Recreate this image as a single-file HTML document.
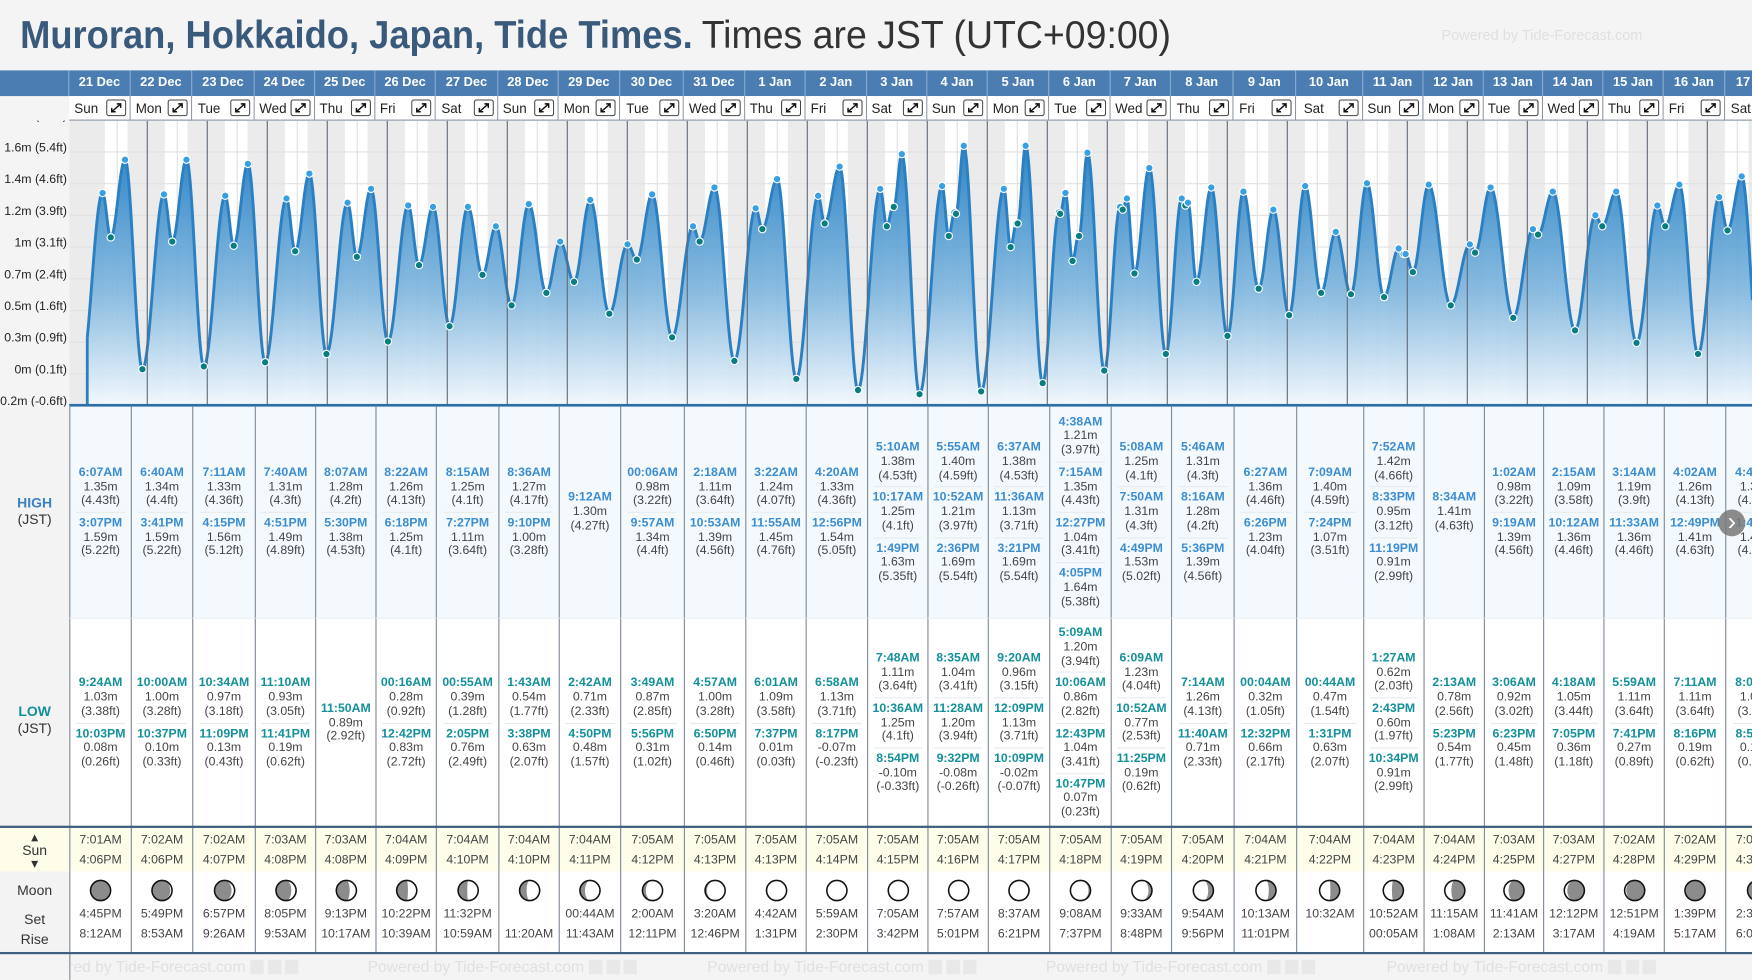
<!DOCTYPE html>
<html><head><meta charset="utf-8">
<style>
html,body{margin:0;padding:0;width:1752px;height:980px;overflow:hidden;background:#f4f4f4;font-family:"Liberation Sans",sans-serif;}
#root{position:absolute;left:0;top:0;width:1568px;height:877px;transform:scale(1.117347);transform-origin:0 0;overflow:hidden;background:#f4f4f4;}
.a{position:absolute;box-sizing:border-box}
.hd{background:#4b7db3;color:#fff;font-weight:bold;font-size:11.5px;text-align:center;line-height:23px;border-right:1px solid #86a9d0}
.dw{background:#fff;font-size:12px;color:#222;border-right:1px solid #8a96a3;border-bottom:1px solid #8a96a3;line-height:22px}
.cell{display:flex;flex-direction:column;justify-content:center;align-items:center;border-left:1px solid #7d8a97;font-size:11px;color:#444;text-align:center}
.ent{line-height:12.7px;white-space:nowrap}
.sep{width:80%;height:1px;background:#e6ebf0;margin:3px 0}
.th{font-weight:bold;color:#3b8dd0}
.tl{font-weight:bold;color:#14909a}
.lbl{color:#333;font-size:12.5px;text-align:center;width:62px;left:0}
.wm{color:#e0e0e0;font-size:14px;white-space:nowrap}
</style></head>
<body><div id="root">
<div class="a" id="title" style="left:18px;top:12px;white-space:nowrap;font-size:35px;line-height:40px;">
<span id="t1" style="display:inline-block;font-weight:bold;color:#3a5a7c;transform-origin:0 0">Muroran, Hokkaido, Japan, Tide Times.</span>
</div>
<div class="a" id="t2" style="left:628px;top:12px;font-size:35px;line-height:40px;color:#333;white-space:nowrap;transform-origin:0 0">Times are JST (UTC+09:00)</div>
<div class="a wm" style="left:1290px;top:24px;font-size:13px">Powered by Tide-Forecast.com</div>
<div class="a" style="left:0;top:63px;width:62px;height:23px;background:#4b7db3;border-right:1px solid #86a9d0"></div>
<div class="a" style="left:62px;top:108px;width:1506px;height:256px;background:#fff"></div>
<svg class="a" id="chart" style="left:0;top:108px" width="1568" height="256" viewBox="0 108 1568 256"></svg>
<div id="table"></div>
<div class="a" style="left:0;top:364px;width:62px;height:376px;background:#f3f3f3"></div>
<div class="a lbl" style="top:443px;line-height:15px"><b style="color:#3b82c4">HIGH</b><br>(JST)</div>
<div class="a lbl" style="top:630px;line-height:15px"><b style="color:#14909a">LOW</b><br>(JST)</div>
<div class="a" style="left:0;top:740px;width:1568px;height:40px;background:#fdfdea;z-index:-0"></div>
<div class="a" style="left:0;top:739px;width:1568px;height:2px;background:#3f5f80;z-index:3"></div>
<div class="a" style="left:0;top:780px;width:62px;height:73px;background:#f3f3f3"></div>
<div class="a lbl" style="top:744px;line-height:10px;font-size:12.5px">▴<br><span style="line-height:14px;display:inline-block">Sun</span><br>▾</div>
<div class="a lbl" style="top:790px">Moon</div>
<div class="a lbl" style="top:816px">Set</div>
<div class="a lbl" style="top:834px">Rise</div>
<div class="a" style="left:0;top:852px;width:1568px;height:2px;background:#3f5f80;z-index:3"></div>
<div class="a" id="footer" style="left:62px;top:854px;width:1506px;height:23px;overflow:hidden;border-left:1px solid #7d8a97"></div>
<div class="a" style="left:1538px;top:456px;width:24px;height:24px;border-radius:12px;background:rgba(120,120,120,.85);color:#fff;font-size:22px;line-height:22px;text-align:center;z-index:5">›</div>
</div>
<script>
const dates=["21 Dec","22 Dec","23 Dec","24 Dec","25 Dec","26 Dec","27 Dec","28 Dec","29 Dec","30 Dec","31 Dec","1 Jan","2 Jan","3 Jan","4 Jan","5 Jan","6 Jan","7 Jan","8 Jan","9 Jan","10 Jan","11 Jan","12 Jan","13 Jan","14 Jan","15 Jan","16 Jan","17 Jan"];
const dows=["Sun","Mon","Tue","Wed","Thu","Fri","Sat","Sun","Mon","Tue","Wed","Thu","Fri","Sat","Sun","Mon","Tue","Wed","Thu","Fri","Sat","Sun","Mon","Tue","Wed","Thu","Fri","Sat"];
const highTimes=[["6:07AM","3:07PM"],["6:40AM","3:41PM"],["7:11AM","4:15PM"],["7:40AM","4:51PM"],["8:07AM","5:30PM"],["8:22AM","6:18PM"],["8:15AM","7:27PM"],["8:36AM","9:10PM"],["9:12AM"],["00:06AM","9:57AM"],["2:18AM","10:53AM"],["3:22AM","11:55AM"],["4:20AM","12:56PM"],["5:10AM","10:17AM","1:49PM"],["5:55AM","10:52AM","2:36PM"],["6:37AM","11:36AM","3:21PM"],["4:38AM","7:15AM","12:27PM","4:05PM"],["5:08AM","7:50AM","4:49PM"],["5:46AM","8:16AM","5:36PM"],["6:27AM","6:26PM"],["7:09AM","7:24PM"],["7:52AM","8:33PM","11:19PM"],["8:34AM"],["1:02AM","9:19AM"],["2:15AM","10:12AM"],["3:14AM","11:33AM"],["4:02AM","12:49PM"],["4:45AM","1:46PM"]];
const highM=[[1.35,1.59],[1.34,1.59],[1.33,1.56],[1.31,1.49],[1.28,1.38],[1.26,1.25],[1.25,1.11],[1.27,1.00],[1.30],[0.98,1.34],[1.11,1.39],[1.24,1.45],[1.33,1.54],[1.38,1.25,1.63],[1.40,1.21,1.69],[1.38,1.13,1.69],[1.21,1.35,1.04,1.64],[1.25,1.31,1.53],[1.31,1.28,1.39],[1.36,1.23],[1.40,1.07],[1.42,0.95,0.91],[1.41],[0.98,1.39],[1.09,1.36],[1.19,1.36],[1.26,1.41],[1.32,1.47]];
const lowTimes=[["9:24AM","10:03PM"],["10:00AM","10:37PM"],["10:34AM","11:09PM"],["11:10AM","11:41PM"],["11:50AM"],["00:16AM","12:42PM"],["00:55AM","2:05PM"],["1:43AM","3:38PM"],["2:42AM","4:50PM"],["3:49AM","5:56PM"],["4:57AM","6:50PM"],["6:01AM","7:37PM"],["6:58AM","8:17PM"],["7:48AM","10:36AM","8:54PM"],["8:35AM","11:28AM","9:32PM"],["9:20AM","12:09PM","10:09PM"],["5:09AM","10:06AM","12:43PM","10:47PM"],["6:09AM","10:52AM","11:25PM"],["7:14AM","11:40AM"],["00:04AM","12:32PM"],["00:44AM","1:31PM"],["1:27AM","2:43PM","10:34PM"],["2:13AM","5:23PM"],["3:06AM","6:23PM"],["4:18AM","7:05PM"],["5:59AM","7:41PM"],["7:11AM","8:16PM"],["8:05AM","8:51PM"]];
const lowM=[[1.03,0.08],[1.00,0.10],[0.97,0.13],[0.93,0.19],[0.89],[0.28,0.83],[0.39,0.76],[0.54,0.63],[0.71,0.48],[0.87,0.31],[1.00,0.14],[1.09,0.01],[1.13,-0.07],[1.11,1.25,-0.10],[1.04,1.20,-0.08],[0.96,1.13,-0.02],[1.20,0.86,1.04,0.07],[1.23,0.77,0.19],[1.26,0.71],[0.32,0.66],[0.47,0.63],[0.62,0.60,0.91],[0.78,0.54],[0.92,0.45],[1.05,0.36],[1.11,0.27],[1.11,0.19],[1.08,0.12]];
const leadTimes=["9:35PM"];
const leadM=[0.07];
const sunRise=["7:01AM","7:02AM","7:02AM","7:03AM","7:03AM","7:04AM","7:04AM","7:04AM","7:04AM","7:05AM","7:05AM","7:05AM","7:05AM","7:05AM","7:05AM","7:05AM","7:05AM","7:05AM","7:05AM","7:04AM","7:04AM","7:04AM","7:04AM","7:03AM","7:03AM","7:02AM","7:02AM","7:01AM"];
const sunSet=["4:06PM","4:06PM","4:07PM","4:08PM","4:08PM","4:09PM","4:10PM","4:10PM","4:11PM","4:12PM","4:13PM","4:13PM","4:14PM","4:15PM","4:16PM","4:17PM","4:18PM","4:19PM","4:20PM","4:21PM","4:22PM","4:23PM","4:24PM","4:25PM","4:27PM","4:28PM","4:29PM","4:30PM"];
const moonSet=["4:45PM","5:49PM","6:57PM","8:05PM","9:13PM","10:22PM","11:32PM","","00:44AM","2:00AM","3:20AM","4:42AM","5:59AM","7:05AM","7:57AM","8:37AM","9:08AM","9:33AM","9:54AM","10:13AM","10:32AM","10:52AM","11:15AM","11:41AM","12:12PM","12:51PM","1:39PM","2:35PM"];
const moonRise=["8:12AM","8:53AM","9:26AM","9:53AM","10:17AM","10:39AM","10:59AM","11:20AM","11:43AM","12:11PM","12:46PM","1:31PM","2:30PM","3:42PM","5:01PM","6:21PM","7:37PM","8:48PM","9:56PM","11:01PM","","00:05AM","1:08AM","2:13AM","3:17AM","4:19AM","5:17AM","6:09AM"];
const moonAge=[1.8,2.8,3.8,4.8,5.8,6.8,7.8,8.8,9.8,10.8,11.8,12.8,13.8,14.8,15.8,16.8,17.8,18.8,19.8,20.8,21.8,22.8,23.8,24.8,25.8,26.8,27.8,28.6];
const tickFt=[-0.6,0.15,0.9,1.65,2.4,3.15,3.9,4.65,5.4,6.15];
const tickLabels=["-0.2m (-0.6ft)","0m (0.1ft)","0.3m (0.9ft)","0.5m (1.6ft)","0.7m (2.4ft)","1m (3.1ft)","1.2m (3.9ft)","1.4m (4.6ft)","1.6m (5.4ft)","1.9m (6.1ft)"];

const colX=[62,117,172,228,282,336,390,446,500,555,612,667,721,776,830,884,939,994,1048,1104,1160,1219.6,1274,1328,1381,1435,1489,1544,1600];
const NS="http://www.w3.org/2000/svg";
function xOf(d){return 78.1+53.7*d;}
function yOf(m){return 340.4-124.2*m;}
function hrs(s){const m=s.match(/(\d+):(\d+)(AM|PM)/);let h=(+m[1])%12;if(m[3]==="PM")h+=12;return h+(+m[2])/60;}
function ftStr(m){return String(Math.round(m*328.084)/100);}
function el(tag,attrs,parent){const e=document.createElementNS(NS,tag);for(const k in attrs)e.setAttribute(k,attrs[k]);parent.appendChild(e);return e;}

const svg=document.getElementById('chart');
const defs=el('defs',{},svg);
const g=el('linearGradient',{id:'fillg',x1:0,y1:0,x2:0,y2:1,gradientUnits:'userSpaceOnUse'},defs);
g.setAttribute('y1',140);g.setAttribute('y2',362);
el('stop',{offset:'0','stop-color':'#2a82c5','stop-opacity':'0.95'},g);
el('stop',{offset:'0.55','stop-color':'#7fb6de','stop-opacity':'0.9'},g);
el('stop',{offset:'1','stop-color':'#f2f8fd','stop-opacity':'0.95'},g);
const cp=el('clipPath',{id:'cp'},defs);el('rect',{x:62,y:108,width:1506,height:256},cp);
const root=el('g',{'clip-path':'url(#cp)'},svg);

// night bands
const END=(1568-78.1)/53.7;
for(let i=-1;i<dates.length;i++){
  const s=i<0?-1+hrs("4:06PM")/24:i+hrs(sunSet[i])/24;
  const e=i+1<dates.length?i+1+hrs(sunRise[i+1])/24:END+1;
  const r=el('rect',{x:xOf(s),y:108,width:xOf(e)-xOf(s),height:256,fill:'#ebebeb'},root);
  
  
}
// horizontal gridlines
tickFt.forEach((f)=>{const y=yOf(f/3.28084);const l=el('line',{x1:62,x2:1568,y1:y,y2:y,stroke:'#e2e2e2','stroke-width':1},root);
  
  });
// noon & midnight lines
for(let i=0;i<=28;i++){
  const n=el('line',{x1:xOf(i+0.5),x2:xOf(i+0.5),y1:108,y2:364,stroke:'#e0e0e0','stroke-width':1},root);
  
  
}
// events
const events=[];
leadTimes.forEach((t,k)=>events.push({t:-1+hrs(t)/24,m:leadM[k],hi:null}));
highTimes.forEach((arr,i)=>arr.forEach((t,k)=>events.push({t:i+hrs(t)/24,m:highM[i][k],hi:true})));
lowTimes.forEach((arr,i)=>arr.forEach((t,k)=>events.push({t:i+hrs(t)/24,m:lowM[i][k],hi:false})));
events.sort((a,b)=>a.t-b.t);
function valAt(t){
  for(let k=0;k<events.length-1;k++){const a=events[k],b=events[k+1];
    if(t>=a.t&&t<=b.t){const s=(t-a.t)/(b.t-a.t);return a.m+(b.m-a.m)*(1-Math.cos(Math.PI*s))/2;}}
  return events[events.length-1].m;
}
let line="",area="M"+xOf(0)+",364";
for(let t=0;t<=END+0.01;t+=0.004){const x=xOf(t),y=yOf(valAt(t));line+=(line?"L":"M")+x.toFixed(2)+","+y.toFixed(2);area+="L"+x.toFixed(2)+","+y.toFixed(2);}
area+="L"+xOf(END+0.01)+",364Z";
const ap=el('path',{d:area,fill:'url(#fillg)'},root);


const lp=el('path',{d:line,fill:'none',stroke:'#2a80c3','stroke-width':2.6},root);


const vl=el('line',{x1:xOf(0),x2:xOf(0),y1:yOf(valAt(0)),y2:364,stroke:'#2a80c3','stroke-width':2.5},root);


for(let i=1;i<=28;i++){
  const m=el('line',{x1:xOf(i),x2:xOf(i),y1:108,y2:364,stroke:'#5f6b78','stroke-width':1},root);
  
  
}
events.forEach(ev=>{if(ev.hi===null)return;
  const c=el('circle',{cx:xOf(ev.t),cy:yOf(ev.m),r:3.3,fill:ev.hi?'#36a0e2':'#0a7d82',stroke:'#fff','stroke-width':1},root);
  
  
});
const bl=el('rect',{x:62,y:361.5,width:1506,height:3,fill:'#2f6fa9'},svg);


tickFt.forEach((f,k)=>{const t=el('text',{x:60,y:yOf(f/3.28084)-0.5,'text-anchor':'end','font-size':11,fill:'#222','font-family':'Liberation Sans, sans-serif'},svg);
  t.textContent=tickLabels[k];
  
  });

// table
const root2=document.getElementById('root');
function div(cls,style,html,parent){const d=document.createElement('div');d.className=cls;d.setAttribute('style',style);d.innerHTML=html;(parent||root2).appendChild(d);return d;}
function entries(times,ms,cls){return times.map((t,k)=>'<div class="ent"><span class="'+cls+'">'+t+'</span><br>'+ms[k].toFixed(2)+'m<br>('+ftStr(ms[k])+'ft)</div>').join('<div class="sep"></div>');}
function moonSvg(age){
  const r=9,cx=10,cy=10,ph=2*Math.PI*age/29.53,rx=Math.abs(Math.cos(ph))*r;
  const wax=ph<Math.PI,cres=Math.cos(ph)>0;let d;
  if(wax){d=`M${cx},${cy-r}A${r},${r} 0 0 1 ${cx},${cy+r}A${rx},${r} 0 0 ${cres?0:1} ${cx},${cy-r}Z`;}
  else{d=`M${cx},${cy-r}A${r},${r} 0 0 0 ${cx},${cy+r}A${rx},${r} 0 0 ${cres?1:0} ${cx},${cy-r}Z`;}
  return `<svg width="20" height="20" viewBox="0 0 20 20"><circle cx="10" cy="10" r="9" fill="#8c8c8c"/><path d="${d}" fill="#fff"/><circle cx="10" cy="10" r="9" fill="none" stroke="#111" stroke-width="1.4"/></svg>`;
}
const icon='<svg width="18" height="15" viewBox="0 0 18 15"><rect x="0.5" y="0.5" width="17" height="14" rx="2" fill="#fff" stroke="#444"/><path d="M5,11 L13,4 M9.5,4 H13 V7.5 M5,7.5 V11 H8.5" fill="none" stroke="#111" stroke-width="1.3"/></svg>';
for(let i=0;i<dates.length;i++){
  const L=colX[i],W=colX[i+1]-colX[i];
  let d=div('a hd',`left:${L}px;top:63px;width:${W}px;height:23px`,dates[i]);
  
  
  d=div('a dw',`left:${L}px;top:86px;width:${W}px;height:22px`,`<span style="position:absolute;left:${W/2-23}px">${dows[i]}</span><span style="position:absolute;left:${W-22}px;top:3px;line-height:0">${icon}</span>`);
  
  
  d=div('a cell',`left:${L}px;top:364px;width:${W}px;height:189px;background:#f4f9fe`,entries(highTimes[i],highM[i],'th'));
  
  
  d=div('a cell',`left:${L}px;top:553px;width:${W}px;height:187px;background:#fff;border-top:1px solid #eef1f4`,entries(lowTimes[i],lowM[i],'tl'));
  
  
  d=div('a cell',`left:${L}px;top:740px;width:${W}px;height:40px;line-height:18px;justify-content:center;padding-top:2px`,sunRise[i]+'<br>'+sunSet[i]);
  
  
  d=div('a cell',`left:${L}px;top:780px;width:${W}px;height:73px;background:#fff;justify-content:flex-start;padding-top:7px;line-height:18px`,`<div style="height:22px;line-height:0">${moonSvg(moonAge[i])}</div><div style="height:18px">${moonSet[i]}</div><div style="height:18px">${moonRise[i]}</div>`);
  
  
}
const foot=document.getElementById('footer');
[-37,266,570,873,1178].forEach(x=>{const w=div('a wm',`left:${x}px;top:3px`,'Powered by Tide-Forecast.com <span style="display:inline-block;width:12px;height:13px;background:#e8e8e8;vertical-align:-2px"></span> <span style="display:inline-block;width:12px;height:13px;background:#e8e8e8;vertical-align:-2px"></span> <span style="display:inline-block;width:12px;height:13px;background:#e8e8e8;vertical-align:-2px"></span>',foot);
  
  });
function fit(id,target){const e=document.getElementById(id);const w=e.getBoundingClientRect().width/1.117347;if(w>0)e.style.transform='scaleX('+(target/w)+')';}
fit('t1',602);fit('t2',420);
</script>
</body></html>
